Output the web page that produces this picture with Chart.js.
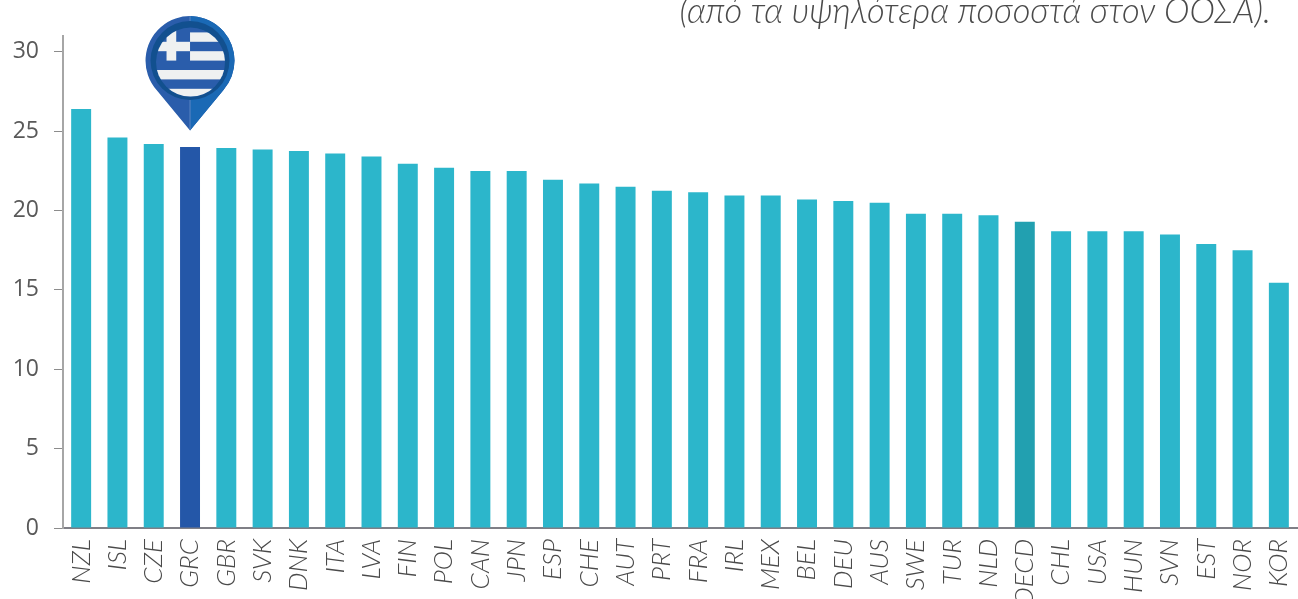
<!doctype html>
<html lang="el">
  <head>
    <meta charset="UTF-8" />
    <title>Chart</title>
    <style>
      html, body { margin: 0; padding: 0; background: #fff; overflow: hidden; }
      #wrap { position: relative; width: 1298px; height: 599px; overflow: hidden; }
      #note {
        position: absolute;
        right: 27px;
        top: -11px;
        font: italic 300 34.5px "Lato", "Open Sans", sans-serif;
        color: #4a4a4a;
        white-space: nowrap;
      }
    </style>
  </head>
  <body>
    <div id="wrap">
      <canvas id="chart" width="1298" height="599"></canvas>
      <div id="note">(από τα υψηλότερα ποσοστά στον ΟΟΣΑ).</div>
    </div>
    <script src="https://cdn.jsdelivr.net/npm/chart.js@4/dist/chart.umd.min.js"></script>
    <script>
      const countries = ["NZL", "ISL", "CZE", "GRC", "GBR", "SVK", "DNK", "ITA", "LVA", "FIN", "POL", "CAN", "JPN", "ESP", "CHE", "AUT", "PRT", "FRA", "IRL", "MEX", "BEL", "DEU", "AUS", "SWE", "TUR", "NLD", "OECD", "CHL", "USA", "HUN", "SVN", "EST", "NOR", "KOR"];
      const values = [26.4, 24.6, 24.2, 24.0, 23.95, 23.85, 23.75, 23.6, 23.4, 22.95, 22.7, 22.5, 22.5, 21.95, 21.7, 21.5, 21.25, 21.15, 20.95, 20.95, 20.7, 20.6, 20.5, 19.8, 19.8, 19.7, 19.3, 18.7, 18.7, 18.7, 18.5, 17.9, 17.5, 15.45];

      const barColors = countries.map((c) => {
        if (c === "GRC") return "#2457a8";
        if (c === "OECD") return "#22a0b0";
        return "#2cb6cb";
      });

      // Greek flag pin above the GRC bar
      const flagPin = {
        id: "flagPin",
        afterDatasetsDraw(chart) {
          const i = countries.indexOf("GRC");
          const ctx = chart.ctx;
          const cx = chart.scales.x.getPixelForValue(i);
          const tipY = chart.scales.y.getPixelForValue(values[i]) - 16.5;
          const cy = tipY - 70;
          const r = 44.5;
          const a = 0.72; // where the point leaves the circle

          const teardrop = () => {
            ctx.beginPath();
            ctx.moveTo(cx, tipY);
            ctx.lineTo(cx - r * Math.cos(a), cy + r * Math.sin(a));
            ctx.arc(cx, cy, r, Math.PI - a, 2 * Math.PI + a);
            ctx.closePath();
          };

          ctx.save();
          teardrop();
          ctx.fillStyle = "#2a5dab";
          ctx.fill();
          ctx.save();
          teardrop();
          ctx.clip();
          ctx.fillStyle = "#1a69b5";
          ctx.fillRect(cx, cy - r - 1, r + 2, r + 90);
          ctx.restore();
          ctx.fillStyle = "#5b86c4";
          ctx.fillRect(cx - 0.5, cy + 38, 1, 31);
          ctx.fillRect(cx - 0.5, cy - r, 1, 5);

          ctx.beginPath();
          ctx.arc(cx, cy, 39.5, 0, 2 * Math.PI);
          ctx.fillStyle = "#12508f";
          ctx.fill();

          ctx.beginPath();
          ctx.arc(cx + 0.5, cy + 1.5, 34.5, 0, 2 * Math.PI);
          ctx.clip();
          ctx.fillStyle = "#2a5dab";
          ctx.fillRect(cx - 40, cy - 40, 80, 80);
          ctx.fillStyle = "#eff1f1";
          const top = cy - 28.2;
          const h = 9.4;
          ctx.fillRect(cx, top, 40, h);
          ctx.fillRect(cx, top + 2 * h, 40, h);
          ctx.fillRect(cx - 40, top + 4 * h, 80, h);
          ctx.fillRect(cx - 40, top + 6 * h, 80, h);
          ctx.fillRect(cx - 40, top + h, 40, h);
          ctx.fillRect(cx - 23.5, top - 6, 9.7, 6 + 3 * h);
          ctx.restore();
        },
      };

      new Chart(document.getElementById("chart"), {
        type: "bar",
        data: {
          labels: countries,
          datasets: [
            {
              data: values,
              backgroundColor: barColors,
              barPercentage: 0.55,
              categoryPercentage: 1,
            },
          ],
        },
        options: {
          responsive: false,
          animation: false,
          layout: { padding: { top: 36, right: 1, left: 0, bottom: 0 } },
          plugins: {
            legend: { display: false },
            title: { display: false },
            tooltip: { enabled: false },
          },
          scales: {
            x: {
              afterFit(scale) {
                scale.height = 71;
                scale.paddingLeft = 0;
                scale.paddingRight = 0;
              },
              grid: { display: false },
              border: { color: "#7f7f86", width: 2 },
              ticks: {
                autoSkip: false,
                minRotation: 90,
                maxRotation: 90,
                padding: 3,
                color: "#4a4a4a",
                font: { family: "Lato", size: 26, style: "italic", weight: 300 },
              },
            },
            y: {
              min: 0,
              max: 31,
              afterFit(scale) {
                scale.width = 63;
              },
              afterBuildTicks(scale) {
                scale.ticks = [0, 5, 10, 15, 20, 25, 30].map((v) => ({ value: v }));
              },
              grid: { drawOnChartArea: false, tickLength: 9, color: "#8c8c8c", tickWidth: 1 },
              border: { color: "#a6a6a6", width: 2 },
              ticks: {
                padding: 15,
                color: "#595959",
                font: { family: "Open Sans", size: 23 },
              },
            },
          },
        },
        plugins: [flagPin],
      });
    </script>
  </body>
</html>
